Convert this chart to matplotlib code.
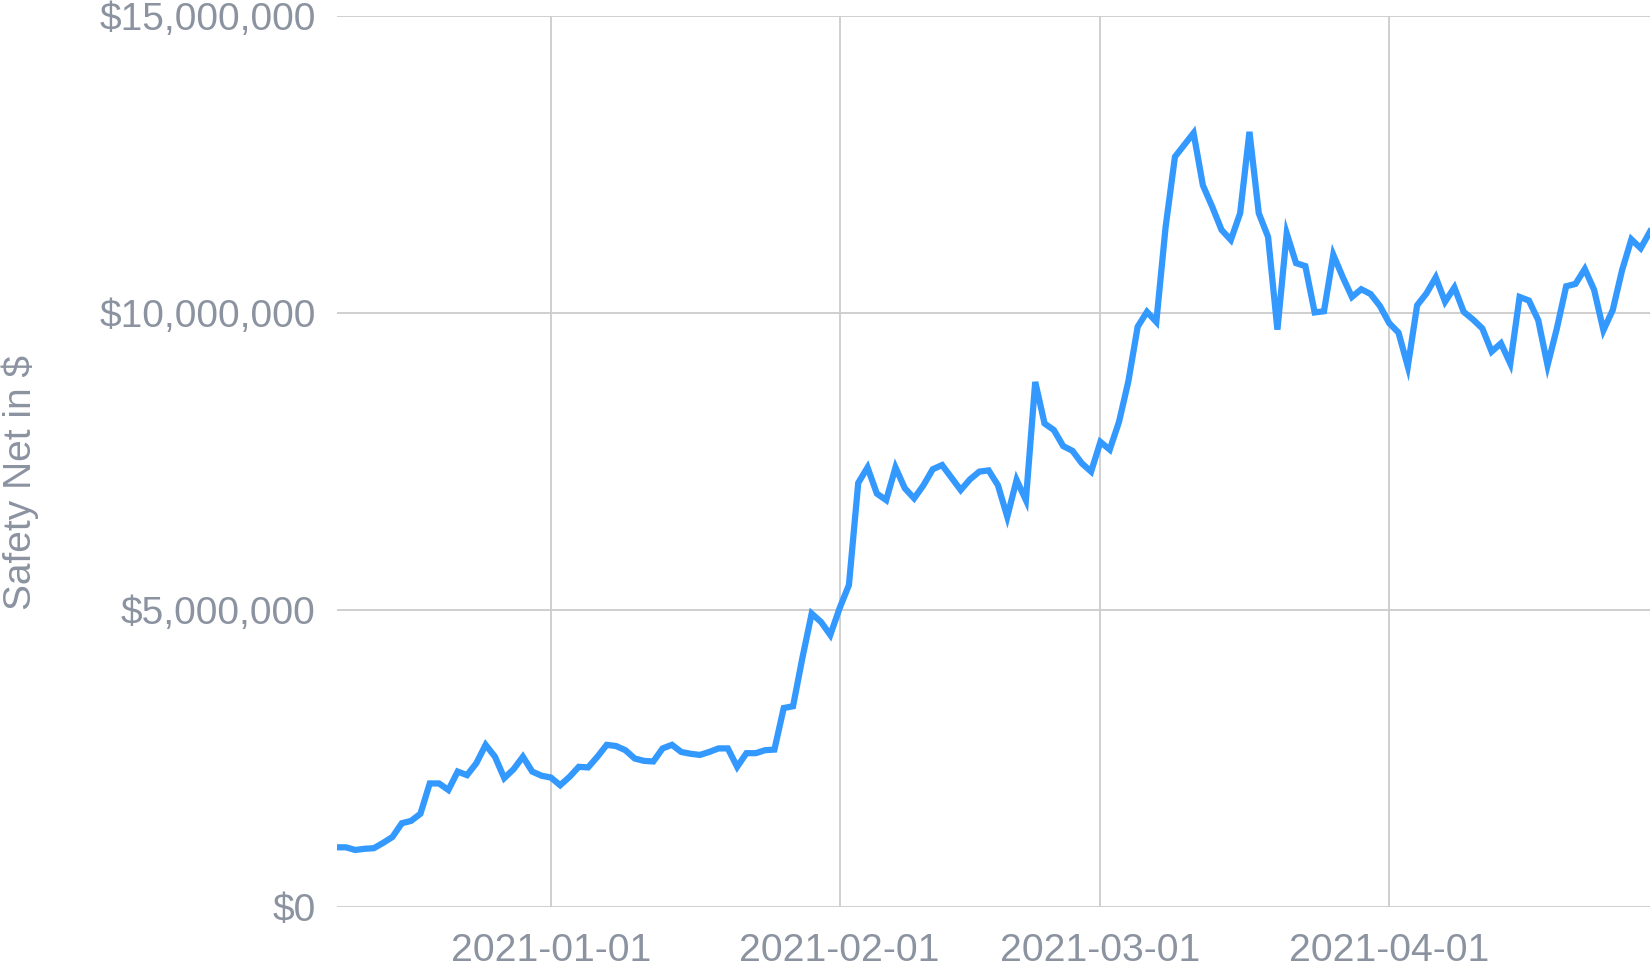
import matplotlib
matplotlib.use("Agg")
import matplotlib.pyplot as plt
import matplotlib.ticker as mticker
import matplotlib.dates as mdates
import pandas as pd

plt.rcParams['font.family'] = ['Liberation Sans', 'DejaVu Sans']

start_date = "2020-12-09"
end_date = "2021-04-29"

# Safety net values, in millions of dollars, one per day
values_m = [
    1.005, 1.005, 0.96, 0.98, 0.99, 1.08, 1.18, 1.41, 1.45, 1.57,
    2.08, 2.08, 1.97, 2.28, 2.22, 2.42, 2.73, 2.53, 2.17, 2.32,
    2.53, 2.28, 2.21, 2.18, 2.05, 2.19, 2.36, 2.35, 2.53, 2.73,
    2.71, 2.64, 2.50, 2.46, 2.45, 2.67, 2.73, 2.61, 2.58, 2.56,
    2.61, 2.67, 2.67, 2.36, 2.59, 2.59, 2.64, 2.65, 3.35, 3.38,
    4.19, 4.94, 4.80, 4.58, 5.03, 5.42, 7.14, 7.40, 6.96, 6.85,
    7.40, 7.05, 6.88, 7.10, 7.37, 7.44, 7.23, 7.02, 7.20, 7.33,
    7.35, 7.10, 6.57, 7.19, 6.85, 8.84, 8.14, 8.03, 7.76, 7.68,
    7.47, 7.33, 7.83, 7.70, 8.17, 8.85, 9.77, 10.02, 9.85, 11.45,
    12.63, 12.83, 13.03, 12.15, 11.79, 11.40, 11.23, 11.68, 13.05, 11.68,
    11.28, 9.72, 11.34, 10.84, 10.79, 10.01, 10.03, 10.98, 10.61, 10.27,
    10.40, 10.32, 10.12, 9.83, 9.67, 9.10, 10.13, 10.33, 10.60, 10.19,
    10.43, 10.02, 9.89, 9.74, 9.35, 9.49, 9.15, 10.27, 10.21, 9.88,
    9.12, 9.74, 10.45, 10.49, 10.74, 10.39, 9.71, 10.05, 10.72, 11.24,
    11.09, 11.37,
]

y_ticks = [0, 5_000_000, 10_000_000, 15_000_000]
x_tick_dates = ["2021-01-01", "2021-02-01", "2021-03-01", "2021-04-01"]
y_label = "Safety Net in $"

dates = pd.date_range(start_date, end_date, freq="D")
values = [v * 1_000_000 for v in values_m]

TEXT = "#8c93a0"
GRID = "#cccccc"
LINE = "#3399ff"

fig = plt.figure(figsize=(16.5, 9.65), dpi=100)
ax = fig.add_axes([0.204, 0.0601, 0.796, 0.9233])

ax.plot(dates, values, color=LINE, linewidth=4.5, solid_joinstyle="miter", zorder=3)

ax.set_xlim(dates[0], dates[-1])
ax.set_ylim(0, 15_000_000)
ax.set_yticks(y_ticks)
ax.yaxis.set_major_formatter(mticker.FuncFormatter(lambda v, p: "${:,.0f}".format(v)))
ax.set_xticks(pd.to_datetime(x_tick_dates))
ax.xaxis.set_major_formatter(mdates.DateFormatter("%Y-%m-%d"))

for s in ax.spines.values():
    s.set_visible(False)
ax.grid(True, color=GRID, linewidth=1.3, zorder=0)
ax.set_axisbelow(True)
ax.tick_params(axis="both", length=0, labelcolor=TEXT)
ax.tick_params(axis="y", pad=15, labelsize=28)
ax.tick_params(axis="x", pad=19, labelsize=28.2)

fig.text(0.0125, 0.5, y_label, rotation=90, ha="center", va="center",
         fontsize=28, color=TEXT)

fig.savefig("out.png", dpi=100)
